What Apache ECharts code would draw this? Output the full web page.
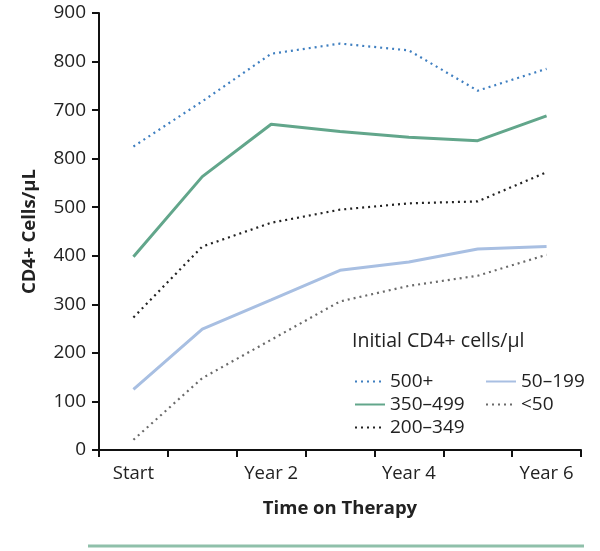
<!DOCTYPE html>
<html>
<head>
<meta charset="utf-8">
<script src="https://cdn.jsdelivr.net/npm/echarts@6/dist/echarts.min.js"></script>
<style>html,body{margin:0;padding:0;background:#fff}#c{width:600px;height:551px}</style>
</head>
<body>
<div id="c"></div>
<script>
var categories = ['Start', '', 'Year 2', '', 'Year 4', '', 'Year 6'];
var yTickLabels = ['0', '100', '200', '300', '400', '500', '800', '700', '800', '900'];
var s500plus = [625, 718, 816, 837, 823, 740, 785];
var s350_499 = [398, 563, 671, 656, 644, 637, 688];
var s200_349 = [273, 419, 468, 495, 508, 512, 572];
var s50_199 = [125, 249, 309, 370, 387, 414, 419];
var sLt50 = [21, 148, 227, 306, 338, 359, 402];

var FONT = '"Open Sans", "Noto Sans", sans-serif';
var chart = echarts.init(document.getElementById('c'), null, {renderer: 'canvas'});

function mk(name, data, color, dotted, width) {
  return {
    name: name, type: 'line', data: data, symbol: 'none', smooth: false,
    color: color,
    lineStyle: {color: color, width: width, type: dotted ? [2, 4] : 'solid'},
    itemStyle: {color: color}
  };
}

var legendCommon = {
  orient: 'vertical', itemWidth: 30, itemHeight: 14, itemGap: 4,
  itemStyle: {opacity: 0},
  textStyle: {fontFamily: FONT, fontSize: 19, color: '#222'}
};

chart.setOption({
  animation: false,
  backgroundColor: '#fff',
  textStyle: {fontFamily: FONT, color: '#222'},
  grid: {left: 99, right: 19, top: 13, bottom: 101, containLabel: false},
  title: {
    text: 'Initial CD4+ cells/\u00b5l', left: 347, top: 326,
    textStyle: {fontFamily: FONT, fontSize: 19.5, fontWeight: 'normal', color: '#222'}
  },
  legend: [
    Object.assign({data: ['500+', '350\u2013499', '200\u2013349'], left: 349, top: 367}, legendCommon),
    Object.assign({data: ['50\u2013199', '<50'], left: 480, top: 367}, legendCommon)
  ],
  xAxis: {
    type: 'category', data: categories, boundaryGap: true,
    name: 'Time on Therapy', nameLocation: 'middle', nameGap: 49,
    nameTextStyle: {fontFamily: FONT, fontSize: 18.5, fontWeight: 'bold', color: '#222'},
    axisLine: {lineStyle: {color: '#111', width: 2}},
    axisTick: {show: true, interval: 0, length: 7, lineStyle: {color: '#111', width: 2}},
    axisLabel: {interval: 0, margin: 14, fontSize: 18.5, color: '#222', fontFamily: FONT},
    splitLine: {show: false}
  },
  yAxis: {
    type: 'value', min: 0, max: 900, interval: 100,
    name: 'CD4+ Cells/\u00b5L', nameLocation: 'middle', nameGap: 60, nameRotate: 90,
    nameTextStyle: {fontFamily: FONT, fontSize: 18.5, fontWeight: 'bold', color: '#222'},
    axisLine: {show: true, lineStyle: {color: '#111', width: 2}},
    axisTick: {show: true, length: 7, lineStyle: {color: '#111', width: 2}},
    axisLabel: {
      margin: 13, fontSize: 19, color: '#222', fontFamily: FONT,
      formatter: function (v) { return yTickLabels[Math.round(v / 100)]; }
    },
    splitLine: {show: false}
  },
  series: [
    mk('500+', s500plus, '#3f7fc0', true, 2.2),
    mk('350\u2013499', s350_499, '#62a68b', false, 3),
    mk('200\u2013349', s200_349, '#222222', true, 2.2),
    mk('50\u2013199', s50_199, '#a8bfe2', false, 3),
    mk('<50', sLt50, '#6a6a6a', true, 2.2)
  ],
  graphic: [
    {type: 'line', shape: {x1: 88, y1: 546, x2: 584, y2: 546}, style: {stroke: '#8fc0aa', lineWidth: 3}}
  ]
});
</script>
</body>
</html>
